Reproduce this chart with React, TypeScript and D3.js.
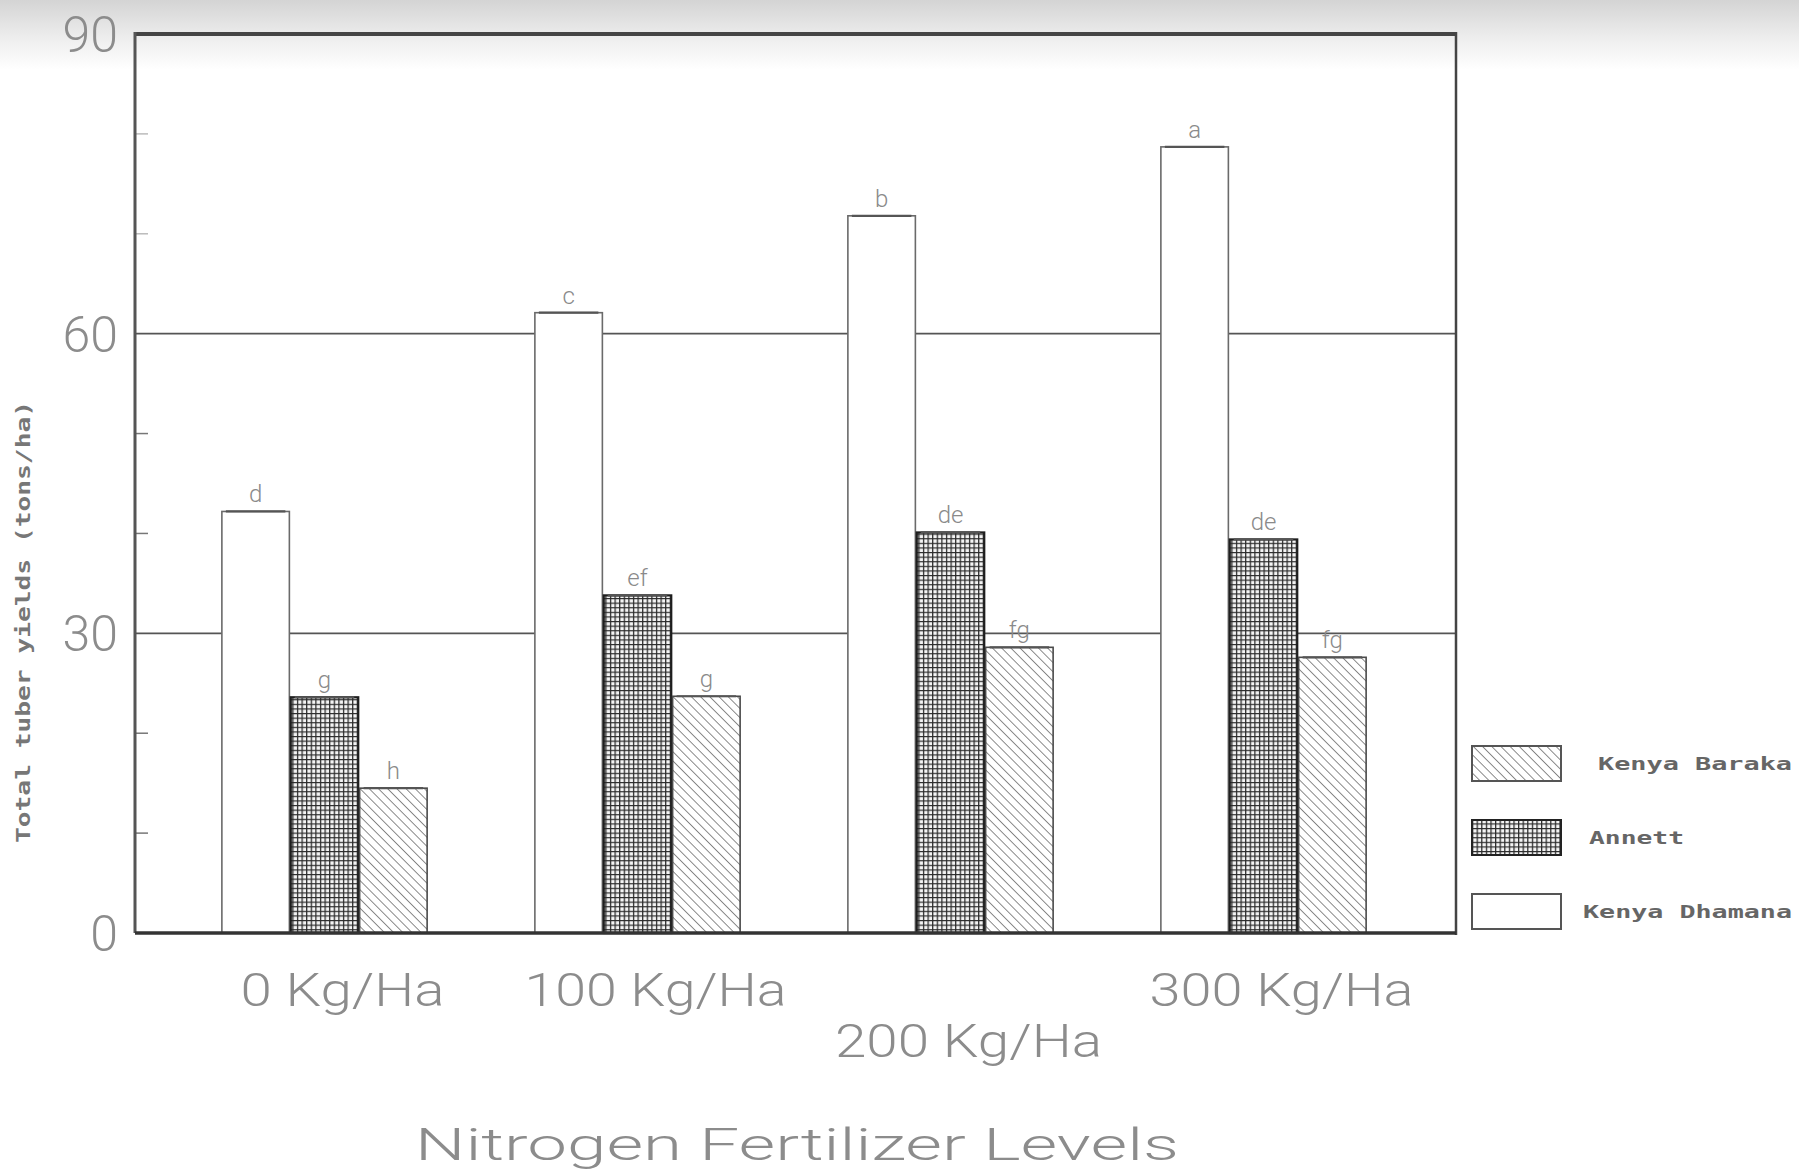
import React from "react";
import * as d3 from "d3";

const categories = ["0 Kg/Ha", "100 Kg/Ha", "200 Kg/Ha", "300 Kg/Ha"];
const series = ["Kenya Dhamana", "Annett", "Kenya Baraka"];
const dhamana = [42.2, 62.1, 71.8, 78.7];
const annett = [23.6, 33.8, 40.1, 39.4];
const baraka = [14.5, 23.7, 28.6, 27.6];
const dhamanaLetters = ["d", "c", "b", "a"];
const annettLetters = ["g", "ef", "de", "de"];
const barakaLetters = ["h", "g", "fg", "fg"];
const yTicks = [0, 30, 60, 90];
const minorTicks = [10, 20, 40, 50, 70, 80];
const gridValues = [30, 60];

const W = 1799;
const H = 1174;
const left = 135;
const right = 1456;
const top = 34;
const bottom = 933;

const values = [dhamana, annett, baraka];
const letters = [dhamanaLetters, annettLetters, barakaLetters];
const fills = ["#ffffff", "url(#grid)", "url(#hatch)"];
const strokes = ["#6a6a6a", "#1e1e1e", "#4a4a4a"];

const plotFont = "Roboto, 'DejaVu Sans', sans-serif";

export default function App() {
  const y = d3.scaleLinear().domain([0, 90]).range([bottom, top]);
  const x = d3.scalePoint<string>().domain(categories).range([168, 1420]).padding(0.5);
  const inner = d3.scaleBand<string>().domain(series).range([-104, 104]).padding(0.02);
  const bw = inner.bandwidth();

  const tickLabelWidths = [204, 262, 267, 264];
  const tickLabelRow = [0, 0, 1, 0];

  const legendOrder = series.slice().reverse();
  const legendTextX = [1598, 1589, 1583];
  const legendTextLen = [194, 95, 209];

  return (
    <svg
      width={W}
      height={H}
      viewBox={`0 0 ${W} ${H}`}
      style={{ position: "absolute", left: 0, top: 0, display: "block", background: "#fff" }}
    >
      <defs>
        <linearGradient id="scan" x1="0" y1="0" x2="0" y2="1">
          <stop offset="0" stopColor="#d4d4d4" />
          <stop offset="0.6" stopColor="#f0f0f0" />
          <stop offset="1" stopColor="#ffffff" />
        </linearGradient>
        <pattern id="grid" width="4.6" height="4.6" patternUnits="userSpaceOnUse">
          <rect width="4.6" height="4.6" fill="#f4f4f4" />
          <path d="M0,0.6 H4.6 M0.6,0 V4.6" stroke="#2a2a2a" strokeWidth="1.3" />
        </pattern>
        <pattern
          id="hatch"
          width="6.5"
          height="6.5"
          patternUnits="userSpaceOnUse"
          patternTransform="rotate(-45)"
        >
          <rect width="6.5" height="6.5" fill="#ffffff" />
          <line x1="0" y1="0" x2="0" y2="6.5" stroke="#5a5a5a" strokeWidth="1.4" />
        </pattern>
      </defs>

      <rect x={0} y={0} width={W} height={70} fill="url(#scan)" />

      {gridValues.map((v) => (
        <line key={v} x1={left} x2={right} y1={y(v)} y2={y(v)} stroke="#555" strokeWidth={1.6} />
      ))}

      {minorTicks.map((v) => (
        <line
          key={v}
          x1={left}
          x2={left + 13}
          y1={y(v)}
          y2={y(v)}
          stroke={v > 60 ? "#bbb" : "#777"}
          strokeWidth={1.5}
        />
      ))}

      {categories.map((c, i) => (
        <g key={c} transform={`translate(${x(c)},0)`}>
          {series.map((s, j) => {
            const v = values[j][i];
            const bx = inner(s) as number;
            return (
              <g key={s}>
                <rect
                  x={bx}
                  y={y(v)}
                  width={bw}
                  height={y(0) - y(v)}
                  fill={fills[j]}
                  stroke={strokes[j]}
                  strokeWidth={j === 1 ? 2.2 : 1.6}
                />
                <line x1={bx + 4} x2={bx + bw - 4} y1={y(v)} y2={y(v)} stroke="#555" strokeWidth={2.2} />
                <text
                  x={bx + bw / 2}
                  y={y(v) - 9}
                  textAnchor="middle"
                  fontFamily={plotFont}
                  fontWeight={300}
                  fontSize={24}
                  fill="#8a8a8a"
                >
                  {letters[j][i]}
                </text>
              </g>
            );
          })}
        </g>
      ))}

      <line x1={left} x2={right} y1={top} y2={top} stroke="#444" strokeWidth={4} />
      <line x1={left} x2={left} y1={top - 2} y2={bottom} stroke="#555" strokeWidth={3} />
      <line x1={right} x2={right} y1={top - 2} y2={bottom + 2} stroke="#444" strokeWidth={2.5} />
      <line x1={left} x2={right} y1={bottom} y2={bottom} stroke="#333" strokeWidth={3.5} />

      {yTicks.map((v) => (
        <text
          key={v}
          x={118}
          y={y(v) + 18}
          textAnchor="end"
          fontFamily={plotFont}
          fontSize={50}
          fontWeight={300}
          fill="#8c8c8c"
        >
          {v}
        </text>
      ))}

      <text
        transform={`translate(30,622) rotate(-90)`}
        textAnchor="middle"
        fontFamily="'DejaVu Sans Mono', monospace"
        fontWeight="bold"
        fontSize={19}
        fill="#777"
        textLength={442}
        lengthAdjust="spacingAndGlyphs"
      >
        Total tuber yields (tons/ha)
      </text>

      {categories.map((c, i) => (
        <text
          key={c}
          x={(x(c) as number) + 18}
          y={tickLabelRow[i] ? 1057 : 1006}
          textAnchor="middle"
          fontFamily={plotFont}
          fontSize={46}
          fontWeight={300}
          fill="#8c8c8c"
          textLength={tickLabelWidths[i]}
          lengthAdjust="spacingAndGlyphs"
        >
          {c}
        </text>
      ))}

      <text
        x={797}
        y={1160}
        textAnchor="middle"
        fontFamily={plotFont}
        fontSize={44}
        fontWeight={300}
        fill="#8c8c8c"
        textLength={764}
        lengthAdjust="spacingAndGlyphs"
      >
        Nitrogen Fertilizer Levels
      </text>

      {legendOrder.map((s, k) => {
        const j = series.indexOf(s);
        const by = 746 + k * 74;
        return (
          <g key={s}>
            <rect
              x={1472}
              y={by}
              width={89}
              height={35}
              fill={fills[j]}
              stroke={j === 1 ? "#222" : "#555"}
              strokeWidth={2}
            />
            <text
              x={legendTextX[k]}
              y={by + 24}
              fontFamily="'DejaVu Sans Mono', monospace"
              fontWeight="bold"
              fontSize={18}
              fill="#666"
              textLength={legendTextLen[k]}
              lengthAdjust="spacingAndGlyphs"
            >
              {s}
            </text>
          </g>
        );
      })}
    </svg>
  );
}
